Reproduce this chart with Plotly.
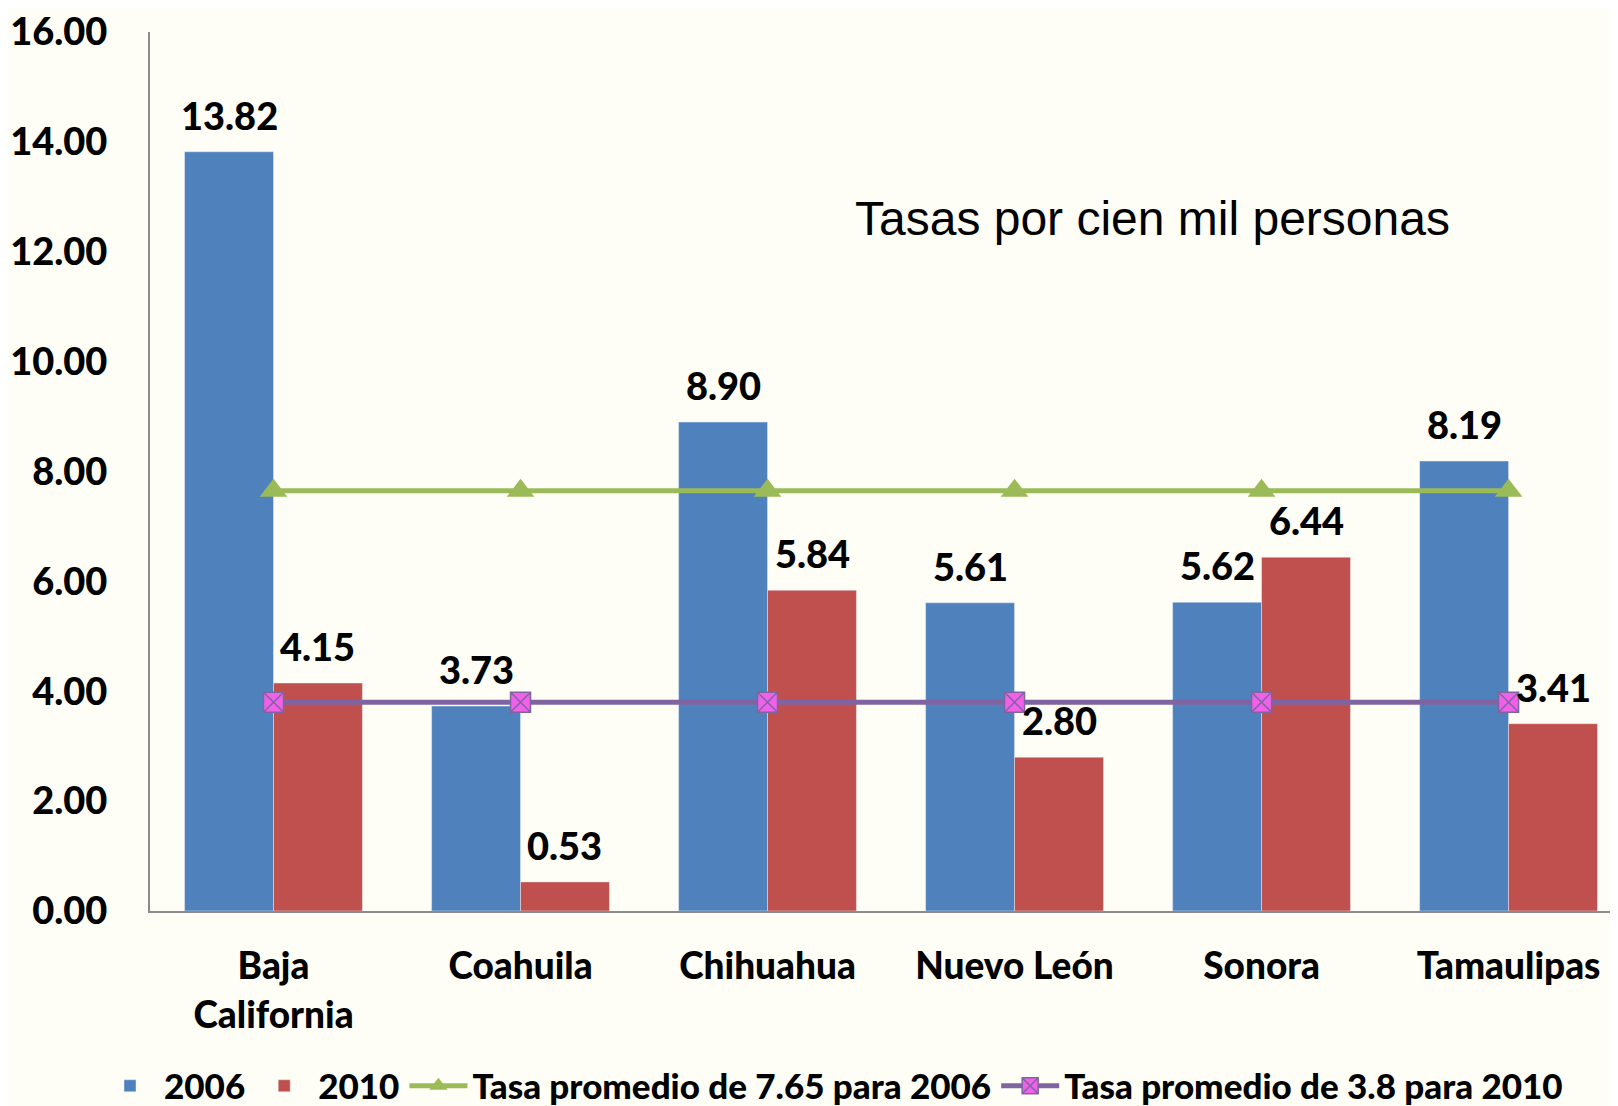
import plotly.graph_objects as go

estados = ["Baja<br>California", "Coahuila", "Chihuahua", "Nuevo León", "Sonora", "Tamaulipas"]
tasa_2006 = [13.82, 3.73, 8.90, 5.61, 5.62, 8.19]
tasa_2010 = [4.15, 0.53, 5.84, 2.80, 6.44, 3.41]
promedio_2006 = 7.65
promedio_2010 = 3.8
y_ticks = [0, 2, 4, 6, 8, 10, 12, 14, 16]

AZUL = "#4F81BD"
ROJO = "#C0504D"
VERDE = "#9BBB59"
MORADO = "#8064A2"
FONDO = "#FEFEF6"
BOLD = "Lato, Calibri, sans-serif"
PESO = 900

fig = go.Figure()
fig.add_trace(go.Bar(x=estados, y=tasa_2006, name="2006", marker_color=AZUL))
fig.add_trace(go.Bar(x=estados, y=tasa_2010, name="2010", marker_color=ROJO))
fig.add_trace(go.Scatter(
    x=estados, y=[promedio_2006] * len(estados), mode="lines+markers",
    name="Tasa promedio de 7.65 para 2006",
    line=dict(color=VERDE, width=5),
    marker=dict(symbol="triangle-up", size=24, color=VERDE),
))
fig.add_trace(go.Scatter(
    x=estados, y=[promedio_2010] * len(estados), mode="lines+markers",
    name="Tasa promedio de 3.8 para 2010",
    line=dict(color=MORADO, width=5),
    marker=dict(symbol="square-x", size=20, color="#F060E8",
                line=dict(color=MORADO, width=1.5)),
))

# etiquetas de datos sobre cada barra
half = (1 - 0.28) / 4
for i, (a, b) in enumerate(zip(tasa_2006, tasa_2010)):
    for xv, v in ((i - half, a), (i + half, b)):
        fig.add_annotation(x=xv, y=v, text=f"{v:.2f}", showarrow=False,
                           yanchor="middle", yshift=37,
                           font=dict(family=BOLD, size=38, color="black", weight=PESO))

fig.add_annotation(x=(1152 - 150) / 1468, y=1 - (218 - 32) / 879, xref="paper", yref="paper",
                   xanchor="center", yanchor="middle",
                   text="Tasas por cien mil personas", showarrow=False,
                   font=dict(family="Liberation Sans, Arial", size=48, color="black"))

# la página tiene 8 px de margen en el body
fig.update_layout(
    width=1610, height=1098,
    margin=dict(l=142, r=0, t=24, b=195),
    paper_bgcolor=FONDO, plot_bgcolor=FONDO,
    barmode="group", bargap=0.28, bargroupgap=0,
    showlegend=True,
    legend=dict(orientation="h", x=(832 - 150) / 1468, xanchor="center",
                yref="container", y=1 - 1078 / 1098, yanchor="middle",
                itemwidth=58,
                font=dict(family=BOLD, size=35, color="black", weight=PESO),
                traceorder="normal", tracegroupgap=0),
    xaxis=dict(range=[-0.5, 5.443], showline=True, linecolor="#8C8C8C", linewidth=2,
               showgrid=False, ticks="", ticklabelstandoff=22, automargin=False,
               tickfont=dict(family=BOLD, size=37, color="black", weight=PESO)),
    yaxis=dict(range=[0, 16], tickvals=y_ticks, ticktext=[f"{t:.2f}" for t in y_ticks],
               showline=True, linecolor="#8C8C8C", linewidth=2, showgrid=False,
               zeroline=False, ticks="", ticklabelstandoff=33, automargin=False,
               ticklabeloverflow="allow",
               tickfont=dict(family=BOLD, size=38, color="black", weight=PESO)),
)

fig.write_html("out.html")
